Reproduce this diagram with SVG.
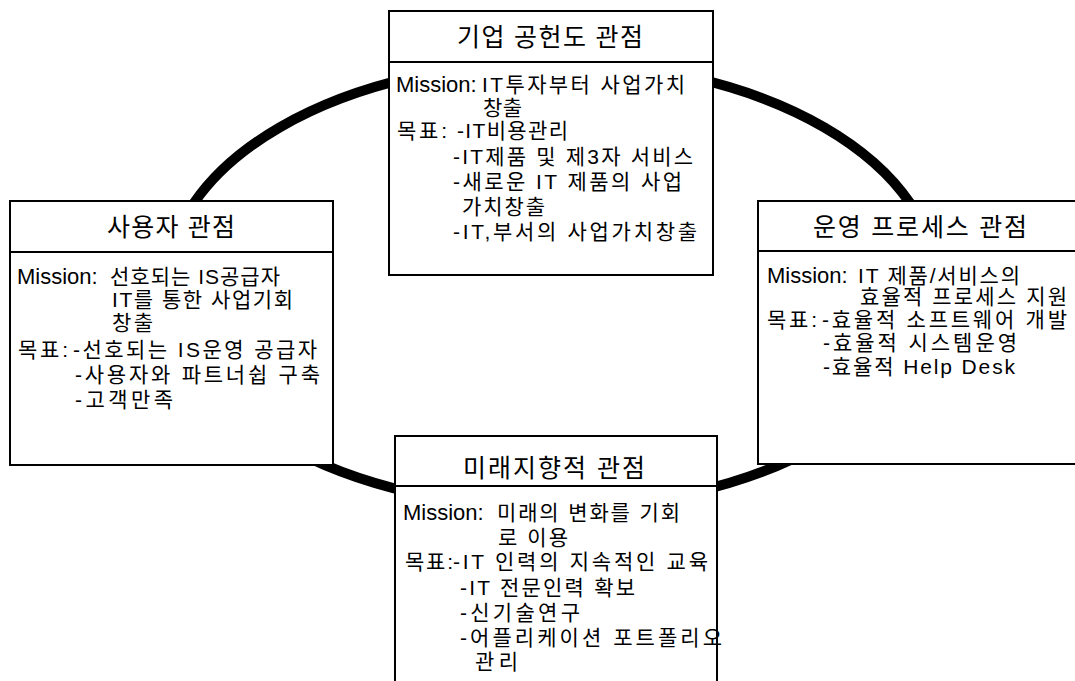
<svg xmlns="http://www.w3.org/2000/svg" width="1075" height="681" viewBox="0 0 1075 681">
<style>
.bx{fill:#fff;stroke:#000;stroke-width:2}
.dv{stroke:#000;stroke-width:2}
.h{font-family:"Liberation Sans","Noto Sans CJK KR",sans-serif;font-size:25px;fill:#000}
.b{font-family:"Liberation Sans","Noto Sans CJK KR",sans-serif;font-size:21px;fill:#000}
.m{font-family:"Liberation Sans","Noto Sans CJK KR",sans-serif;font-size:22px;fill:#000}
</style>
<rect width="1075" height="681" fill="#fff"/>
<g id="connectors">
<ellipse cx="552" cy="285" rx="385" ry="223" fill="none" stroke="#000" stroke-width="10"/>
</g>
<g id="node-top">
<rect class="bx" x="389" y="11" width="324" height="264"/>
<line class="dv" x1="389" y1="62" x2="713" y2="62"/>
<text class="h" x="457" y="46" textLength="186" lengthAdjust="spacing">기업 공헌도 관점</text>
<text class="m" x="396" y="92">Mission:</text>
<text class="b" x="482" y="92" textLength="203" lengthAdjust="spacing">IT투자부터 사업가치</text>
<text class="b" x="483" y="115" textLength="39" lengthAdjust="spacing">창출</text>
<text class="b" x="397" y="138" textLength="50" lengthAdjust="spacing">목표:</text>
<text class="b" x="457" y="138" textLength="111" lengthAdjust="spacing">-IT비용관리</text>
<text class="b" x="453" y="164" textLength="240" lengthAdjust="spacing">-IT제품 및 제3자 서비스</text>
<text class="b" x="453" y="189" textLength="229" lengthAdjust="spacing">-새로운 IT 제품의 사업</text>
<text class="b" x="462" y="214" textLength="83" lengthAdjust="spacing">가치창출</text>
<text class="b" x="453" y="239" textLength="244" lengthAdjust="spacing">-IT,부서의 사업가치창출</text>
</g>
<g id="node-left">
<rect class="bx" x="10" y="201" width="323" height="264"/>
<line class="dv" x1="10" y1="252" x2="333" y2="252"/>
<text class="h" x="107" y="236" textLength="128" lengthAdjust="spacing">사용자 관점</text>
<text class="m" x="17" y="284">Mission:</text>
<text class="b" x="110" y="284" textLength="170" lengthAdjust="spacing">선호되는 IS공급자</text>
<text class="b" x="112" y="307" textLength="181" lengthAdjust="spacing">IT를 통한 사업기회</text>
<text class="b" x="112" y="330" textLength="41" lengthAdjust="spacing">창출</text>
<text class="b" x="18" y="357" textLength="50" lengthAdjust="spacing">목표:</text>
<text class="b" x="73" y="357" textLength="244" lengthAdjust="spacing">-선호되는 IS운영 공급자</text>
<text class="b" x="75" y="382" textLength="245" lengthAdjust="spacing">-사용자와 파트너쉽 구축</text>
<text class="b" x="75" y="407" textLength="98" lengthAdjust="spacing">-고객만족</text>
</g>
<g id="node-right">
<rect class="bx" x="758" y="201" width="330" height="263"/>
<line class="dv" x1="758" y1="251" x2="1088" y2="251"/>
<text class="h" x="813" y="236" textLength="214" lengthAdjust="spacing">운영 프로세스 관점</text>
<text class="m" x="767" y="283">Mission:</text>
<text class="b" x="858" y="283" textLength="162" lengthAdjust="spacing">IT 제품/서비스의</text>
<text class="b" x="860" y="304" textLength="207" lengthAdjust="spacing">효율적 프로세스 지원</text>
<text class="b" x="767" y="327" textLength="50" lengthAdjust="spacing">목표:</text>
<text class="b" x="822" y="327" textLength="245" lengthAdjust="spacing">-효율적 소프트웨어 개발</text>
<text class="b" x="823" y="350" textLength="194" lengthAdjust="spacing">-효율적 시스템운영</text>
<text class="b" x="823" y="374" textLength="192" lengthAdjust="spacing">-효율적 Help Desk</text>
</g>
<g id="node-bottom">
<rect class="bx" x="395" y="436" width="322" height="260"/>
<line class="dv" x1="395" y1="486" x2="717" y2="486"/>
<text class="h" x="463" y="477" textLength="182" lengthAdjust="spacing">미래지향적 관점</text>
<text class="m" x="403" y="520">Mission:</text>
<text class="b" x="497" y="520" textLength="183" lengthAdjust="spacing">미래의 변화를 기회</text>
<text class="b" x="498" y="545" textLength="70" lengthAdjust="spacing">로 이용</text>
<text class="b" x="405" y="569" textLength="48" lengthAdjust="spacing">목표:</text>
<text class="b" x="453" y="569" textLength="255" lengthAdjust="spacing">-IT 인력의 지속적인 교육</text>
<text class="b" x="460" y="595" textLength="175" lengthAdjust="spacing">-IT 전문인력 확보</text>
<text class="b" x="460" y="620" textLength="120" lengthAdjust="spacing">-신기술연구</text>
<text class="b" x="460" y="645" textLength="262" lengthAdjust="spacing">-어플리케이션 포트폴리오</text>
<text class="b" x="475" y="669" textLength="43" lengthAdjust="spacing">관리</text>
</g>
</svg>
